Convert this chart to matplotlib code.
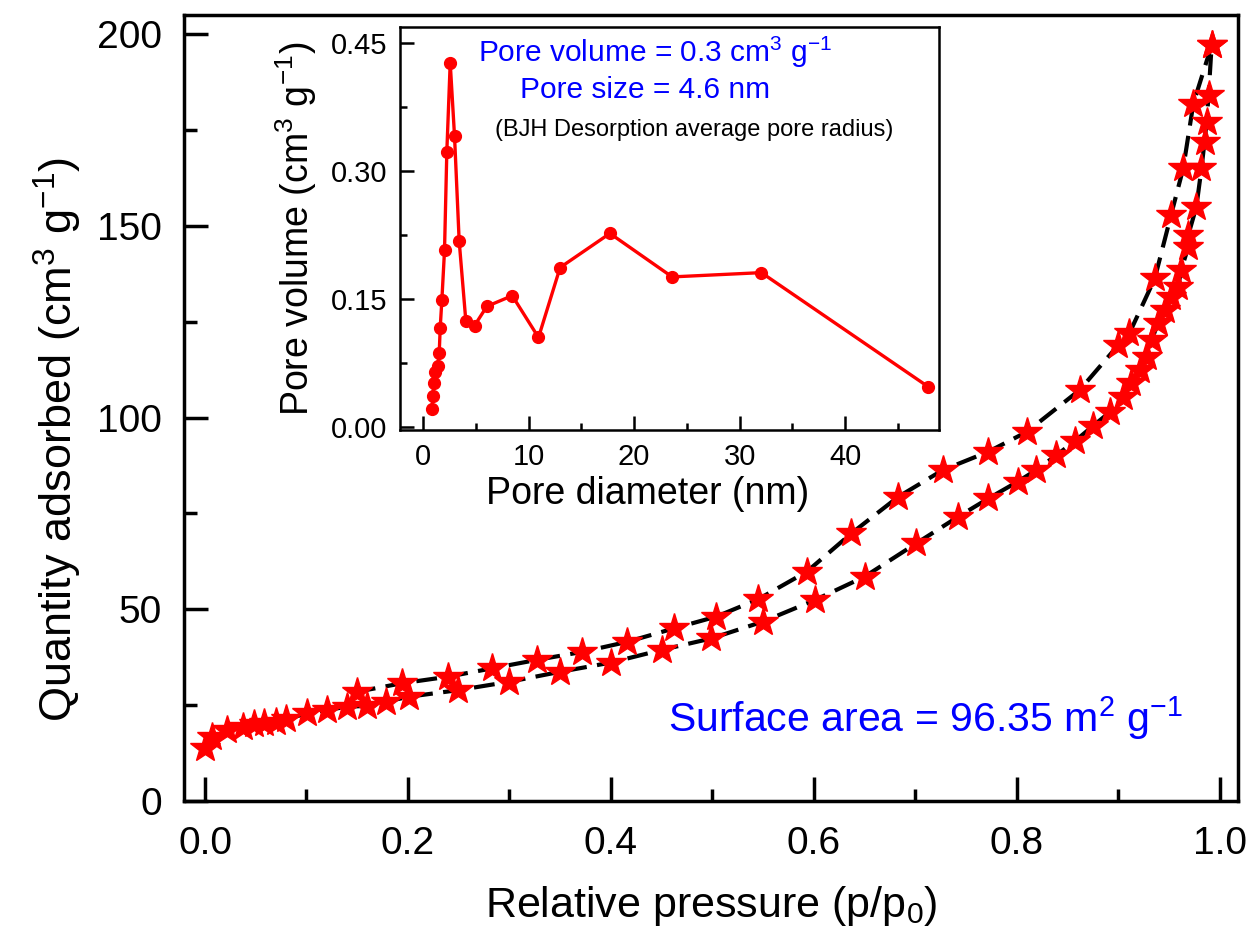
import matplotlib
matplotlib.use('Agg')
import matplotlib.pyplot as plt
from matplotlib.ticker import MultipleLocator

plt.rcParams['font.family'] = ['Liberation Sans', 'DejaVu Sans']
plt.rcParams['mathtext.fontset'] = 'custom'
plt.rcParams['mathtext.rm'] = 'Liberation Sans'
plt.rcParams['mathtext.it'] = 'Liberation Sans:italic'

# adsorption branch (relative pressure, quantity adsorbed)
p_ads = [0.0, 0.007, 0.022, 0.037, 0.048, 0.058, 0.070, 0.080, 0.101, 0.120,
         0.140, 0.160, 0.178, 0.201, 0.249, 0.300, 0.350, 0.400, 0.450, 0.499,
         0.550, 0.601, 0.650, 0.701, 0.742, 0.772, 0.801, 0.819, 0.839, 0.857,
         0.875, 0.892, 0.905, 0.913, 0.921, 0.928, 0.933, 0.939, 0.946, 0.952,
         0.959, 0.962, 0.969, 0.969, 0.977, 0.982, 0.985, 0.987, 0.989, 0.992]
q_ads = [13.7, 16.8, 18.5, 19.4, 20.1, 20.3, 20.7, 21.3, 22.9, 23.7,
         24.6, 24.8, 25.9, 27.2, 28.9, 31.1, 33.7, 36.1, 39.4, 42.4,
         46.8, 52.4, 58.5, 67.2, 74.1, 78.9, 83.3, 86.3, 90.2, 93.8,
         97.8, 101.5, 105.4, 108.9, 112.4, 115.9, 120.2, 124.6, 128.0, 131.5,
         134.1, 138.5, 144.5, 147.6, 155.0, 165.0, 171.9, 177.1, 184.1, 197.1]

# desorption branch
p_des = [0.992, 0.974, 0.964, 0.952, 0.936, 0.911, 0.900, 0.862, 0.810, 0.772,
         0.727, 0.683, 0.637, 0.593, 0.545, 0.504, 0.462, 0.416, 0.372, 0.327,
         0.283, 0.239, 0.194, 0.150]
q_des = [197.1, 181.9, 165.0, 152.8, 136.3, 122.0, 118.9, 107.2, 96.3, 91.1,
         86.3, 79.3, 69.8, 59.8, 52.6, 48.1, 45.0, 41.5, 38.9, 36.8,
         34.6, 32.4, 30.7, 28.5]

# BJH pore size distribution (inset)
pore_d = [0.82, 0.92, 0.98, 1.14, 1.36, 1.52, 1.61, 1.77, 2.02, 2.24, 2.56, 2.97,
          3.41, 4.04, 4.87, 6.03, 8.44, 10.93, 12.98, 17.7, 23.6, 32.06, 47.9]
pore_v = [0.021, 0.036, 0.052, 0.064, 0.0715, 0.087, 0.116, 0.149, 0.207, 0.323,
          0.427, 0.341, 0.218, 0.1245, 0.119, 0.1414, 0.154, 0.105, 0.187, 0.227,
          0.176, 0.181, 0.047]

W, H = 1252, 930
fig = plt.figure(figsize=(W / 100, H / 100), dpi=100)
fig.patch.set_facecolor('white')

ax = fig.add_axes([184 / W, 1 - 801 / H, (1238 - 184) / W, (801 - 15) / H])
ax.plot(p_ads, q_ads, color='black', lw=3, ls=(0, (5, 2.5)), zorder=2)
ax.plot(p_des, q_des, color='black', lw=3, ls=(0, (5, 2.5)), zorder=2)
ax.plot(p_ads, q_ads, ls='none', marker='*', ms=22, color='red', mec='red', zorder=3)
ax.plot(p_des, q_des, ls='none', marker='*', ms=22, color='red', mec='red', zorder=3)

ax.set_xlim(-0.0207, 1.018)
ax.set_ylim(0, 205)
ax.xaxis.set_major_locator(MultipleLocator(0.2))
ax.xaxis.set_minor_locator(MultipleLocator(0.1))
ax.yaxis.set_major_locator(MultipleLocator(50))
ax.yaxis.set_minor_locator(MultipleLocator(25))
ax.xaxis.set_major_formatter(plt.FuncFormatter(lambda v, pos: f'{v:.1f}'))
ax.tick_params(which='both', direction='in', top=False, right=False, width=2.5)
ax.tick_params(which='major', length=17, labelsize=28)
ax.tick_params(which='minor', length=9)
ax.tick_params(axis='x', which='major', pad=18)
ax.tick_params(axis='y', which='major', pad=16)
for s in ax.spines.values():
    s.set_linewidth(2.5)
ax.set_xlabel('Relative pressure (p/p$_\\mathregular{0}$)', fontsize=31)
ax.set_ylabel('Quantity adsorbed (cm$^\\mathregular{3}$ g$^\\mathregular{-1}$)', fontsize=32.5)
ax.xaxis.set_label_coords(0.5, -0.105)
ax.yaxis.set_label_coords(-0.095, 0.46)

fig.text(668 / W, 1 - 718 / H, 'Surface area = 96.35 m$^\\mathregular{2}$ g$^\\mathregular{-1}$',
         color='blue', fontsize=29.5, ha='left', va='center')

# inset
ins = fig.add_axes([400 / W, 1 - 430 / H, (939 - 400) / W, (430 - 27) / H])
ins.plot(pore_d, pore_v, color='red', lw=2.4, marker='o', ms=8.5)
ins.set_xlim(-2.2, 48.9)
ins.set_ylim(-0.0035, 0.469)
ins.xaxis.set_major_locator(MultipleLocator(10))
ins.xaxis.set_minor_locator(MultipleLocator(5))
ins.yaxis.set_major_locator(MultipleLocator(0.15))
ins.yaxis.set_minor_locator(MultipleLocator(0.075))
ins.yaxis.set_major_formatter(plt.FuncFormatter(lambda v, pos: f'{v:.2f}'))
ins.tick_params(which='both', direction='in', top=False, right=False, width=1.8)
ins.tick_params(which='major', length=10, labelsize=21, pad=9)
ins.tick_params(which='minor', length=5)
for s in ins.spines.values():
    s.set_linewidth(1.8)
ins.set_xlabel('Pore diameter (nm)', fontsize=27)
ins.set_ylabel('Pore volume (cm$^\\mathregular{3}$ g$^\\mathregular{-1}$)', fontsize=27)
ins.xaxis.set_label_coords(0.46, -0.115)
ins.yaxis.set_label_coords(-0.15, 0.5)

fig.text(655 / W, 1 - 52 / H, 'Pore volume = 0.3 cm$^\\mathregular{3}$ g$^\\mathregular{-1}$',
         color='blue', fontsize=21.5, ha='center', va='center')
fig.text(645 / W, 1 - 90 / H, 'Pore size = 4.6 nm', color='blue', fontsize=21.5,
         ha='center', va='center')
fig.text(694 / W, 1 - 130 / H, '(BJH Desorption average pore radius)', color='black',
         fontsize=17, ha='center', va='center')

fig.savefig('out.png', dpi=100)
